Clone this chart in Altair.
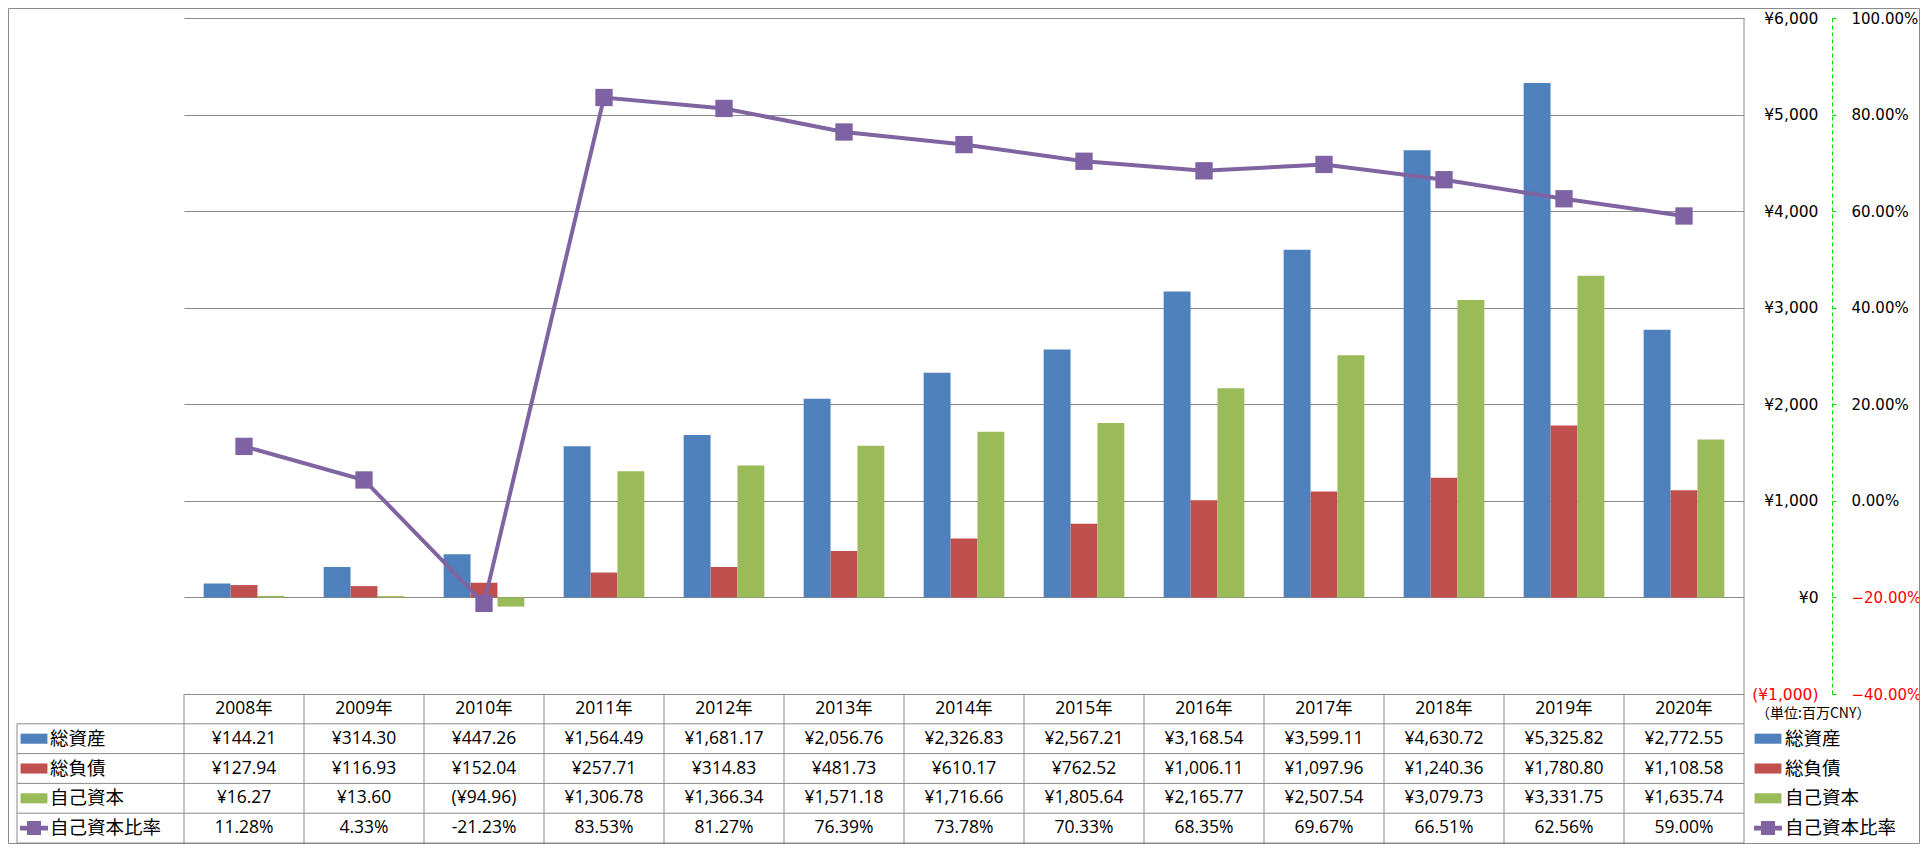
import altair as alt
import pandas as pd

# ---------------- data ----------------
years = ["2008年", "2009年", "2010年", "2011年", "2012年", "2013年", "2014年",
         "2015年", "2016年", "2017年", "2018年", "2019年", "2020年"]
total_assets = [144.21, 314.30, 447.26, 1564.49, 1681.17, 2056.76, 2326.83,
                2567.21, 3168.54, 3599.11, 4630.72, 5325.82, 2772.55]
total_liabilities = [127.94, 116.93, 152.04, 257.71, 314.83, 481.73, 610.17,
                     762.52, 1006.11, 1097.96, 1240.36, 1780.80, 1108.58]
equity = [16.27, 13.60, -94.96, 1306.78, 1366.34, 1571.18, 1716.66,
          1805.64, 2165.77, 2507.54, 3079.73, 3331.75, 1635.74]
equity_ratio_pct = [11.28, 4.33, -21.23, 83.53, 81.27, 76.39, 73.78,
                    70.33, 68.35, 69.67, 66.51, 62.56, 59.00]

series_names = ["総資産", "総負債", "自己資本", "自己資本比率"]
series_colors = ["#4F81BD", "#C0504D", "#9BBB59", "#8064A2"]
unit_label = "（単位:百万CNY）"
yen_ticks = [-1000, 0, 1000, 2000, 3000, 4000, 5000, 6000]
pct_ticks = [-0.4, -0.2, 0.0, 0.2, 0.4, 0.6, 0.8, 1.0]

# ---------------- layout ----------------
L, R, TOP, B = 176, 176, 10, 150
W, H, T = 1560, 676, 149
TABLE_LEFT = -167
KEY_X = -150
LABEL_X = -134
RKEY_X = W + 24
RLABEL_X = W + 41
UNIT_X = W + 12

GRID = "#8A8A8A"
NUM_FONT = "Open Sans, Noto Sans CJK JP"
CJK_FONT = "Noto Sans CJK JP"
AXIS_FONT = "DejaVu Sans"

row_keys = ["hdr"] + series_names

# ---------------- tables ----------------
bar_series = series_names[:3]
bar_values = [total_assets, total_liabilities, equity]
bar_df = pd.DataFrame([
    {"year": y, "series": s, "value": v}
    for s, vals in zip(bar_series, bar_values)
    for y, v in zip(years, vals)
])
ratio_df = pd.DataFrame({"year": years, "ratio": [p / 100 for p in equity_ratio_pct]})


def yen(v):
    return f"(¥{abs(v):,.2f})" if v < 0 else f"¥{v:,.2f}"


table_rows = []
for y in years:
    table_rows.append({"year": y, "row": "hdr", "text": y})
for s, vals in zip(bar_series, bar_values):
    for y, v in zip(years, vals):
        table_rows.append({"year": y, "row": s, "text": yen(v)})
for y, p in zip(years, equity_ratio_pct):
    table_rows.append({"year": y, "row": "自己資本比率", "text": f"{p:.2f}%"})
table_df = pd.DataFrame(table_rows)

label_df = pd.DataFrame({"row": series_names})
year_df = pd.DataFrame({"year": years})
unit_df = pd.DataFrame({"row": ["hdr"], "text": [unit_label]})
one_df = pd.DataFrame({"k": [0]})

rect_path = "M-0.96,-0.36H0.96V0.36H-0.96Z"
key_line_path = ("M-1,-0.17H-0.5V-0.5H0.5V-0.17H1V0.17H0.5V0.5H-0.5V0.17H-1Z")

x_scale = alt.Scale(domain=years, paddingInner=0, paddingOuter=0)
row_scale = alt.Scale(domain=row_keys, range=[H, H + T], paddingInner=0, paddingOuter=0)
color_scale = alt.Scale(domain=series_names, range=series_colors)
shape_scale = alt.Scale(domain=series_names,
                        range=[rect_path, rect_path, rect_path, key_line_path])

# ---------------- bars ----------------
bars = alt.Chart(bar_df).mark_bar().encode(
    x=alt.X("year:N", scale=x_scale, axis=None, sort=years),
    xOffset=alt.XOffset("series:N", sort=bar_series,
                        scale=alt.Scale(domain=bar_series, paddingInner=0, paddingOuter=0.73)),
    y=alt.Y("value:Q", stack=None,
            scale=alt.Scale(domain=[-1000, 6000], nice=False),
            axis=alt.Axis(orient="right", values=yen_ticks, grid=True, gridColor=GRID,
                          gridWidth=1, domain=False, ticks=False, labelPadding=74,
                          labelAlign="right", labelFont=AXIS_FONT, labelFontSize=15.5,
                          labelColor={"expr": "datum.value < 0 ? '#FF0000' : '#000000'"},
                          labelExpr="datum.value < 0 ? '(¥' + format(-datum.value, ',') + ')' : '¥' + format(datum.value, ',')",
                          title=None)),
    color=alt.Color("series:N", scale=color_scale, legend=None),
)

# ---------------- ratio line ----------------
line = alt.Chart(ratio_df).mark_line(
    color="#8064A2", strokeWidth=4,
    point=alt.OverlayMarkDef(shape="square", size=300, filled=True,
                             color="#7F62A3", opacity=1),
).encode(
    x=alt.X("year:N", scale=x_scale, axis=None, sort=years),
    y=alt.Y("ratio:Q", scale=alt.Scale(domain=[-0.4, 1.0], nice=False, zero=False),
            axis=alt.Axis(orient="right", offset=88, values=pct_ticks, format=".2%",
                          grid=False, domainColor="#00DD00", domainDash=[4, 3],
                          domainWidth=1, tickColor="#00DD00", tickSize=4,
                          labelPadding=15, labelFont=AXIS_FONT, labelFontSize=15,
                          labelColor={"expr": "datum.value < -0.0001 ? '#FF0000' : '#000000'"},
                          title=None)),
)

# ---------------- data table ----------------
table_text = alt.Chart(table_df).mark_text(
    font=NUM_FONT, fontSize=17.5, color="#000000", baseline="middle", align="center"
).encode(
    x=alt.X("year:N", scale=x_scale, axis=None, sort=years),
    y=alt.Y("row:N", scale=row_scale, axis=None),
    text="text:N",
)

hlines = alt.Chart(label_df).mark_rule(color=GRID, strokeWidth=1).encode(
    y=alt.Y("row:N", scale=row_scale, axis=None, bandPosition=0),
    x=alt.value(TABLE_LEFT), x2=alt.value(W),
)
bottom_line = alt.Chart(pd.DataFrame({"row": ["自己資本比率"]})).mark_rule(
    color=GRID, strokeWidth=1).encode(
    y=alt.Y("row:N", scale=row_scale, axis=None, bandPosition=1),
    x=alt.value(TABLE_LEFT), x2=alt.value(W),
)
vlines = alt.Chart(year_df).mark_rule(color=GRID, strokeWidth=1).encode(
    x=alt.X("year:N", scale=x_scale, axis=None, sort=years, bandPosition=0),
    y=alt.value(H), y2=alt.value(H + T),
)
right_border = alt.Chart(one_df).mark_rule(color=GRID, strokeWidth=1).encode(
    x=alt.value(W), y=alt.value(0), y2=alt.value(H + T),
)
left_border = alt.Chart(one_df).mark_rule(color=GRID, strokeWidth=1).encode(
    x=alt.value(TABLE_LEFT), y=alt.value(H + T / 5), y2=alt.value(H + T),
)

# row keys + labels (left column of the table)
left_keys = alt.Chart(label_df).mark_point(filled=True, size=784, opacity=1, strokeWidth=0).encode(
    x=alt.value(KEY_X),
    y=alt.Y("row:N", scale=row_scale, axis=None),
    color=alt.Color("row:N", scale=color_scale, legend=None),
    shape=alt.Shape("row:N", scale=shape_scale, legend=None),
)
left_labels = alt.Chart(label_df).mark_text(
    font=CJK_FONT, fontSize=18.5, align="left", baseline="middle", color="#000000"
).encode(
    x=alt.value(LABEL_X),
    y=alt.Y("row:N", scale=row_scale, axis=None),
    text="row:N",
)

# legend on the right
right_keys = alt.Chart(label_df).mark_point(filled=True, size=784, opacity=1, strokeWidth=0).encode(
    x=alt.value(RKEY_X),
    y=alt.Y("row:N", scale=row_scale, axis=None),
    color=alt.Color("row:N", scale=color_scale, legend=None),
    shape=alt.Shape("row:N", scale=shape_scale, legend=None),
)
right_labels = alt.Chart(label_df).mark_text(
    font=CJK_FONT, fontSize=18.5, align="left", baseline="middle", color="#000000"
).encode(
    x=alt.value(RLABEL_X),
    y=alt.Y("row:N", scale=row_scale, axis=None),
    text="row:N",
)
unit_text = alt.Chart(unit_df).mark_text(
    font=CJK_FONT, fontSize=14, align="left", baseline="middle", color="#000000", dy=5
).encode(
    x=alt.value(UNIT_X),
    y=alt.Y("row:N", scale=row_scale, axis=None),
    text="text:N",
)

outer = alt.Chart(one_df).mark_rect(fill=None, stroke="#8A8A8A", strokeWidth=1).encode(
    x=alt.value(-L + 0.5), x2=alt.value(W + R - 0.5),
    y=alt.value(-TOP + 0.5), y2=alt.value(H + B - 0.5),
)

chart = alt.layer(
    outer, bars, right_border, vlines, hlines, bottom_line, left_border,
    table_text, left_keys, left_labels, right_keys, right_labels, unit_text, line,
).resolve_scale(
    y="independent"
).properties(
    width=W, height=H,
    autosize=alt.AutoSizeParams(type="none"),
    padding={"left": L, "right": R, "top": TOP, "bottom": B},
    background="white",
).configure_view(stroke=None)

chart.save("out.html", embed_options={"renderer": "svg", "actions": False})
